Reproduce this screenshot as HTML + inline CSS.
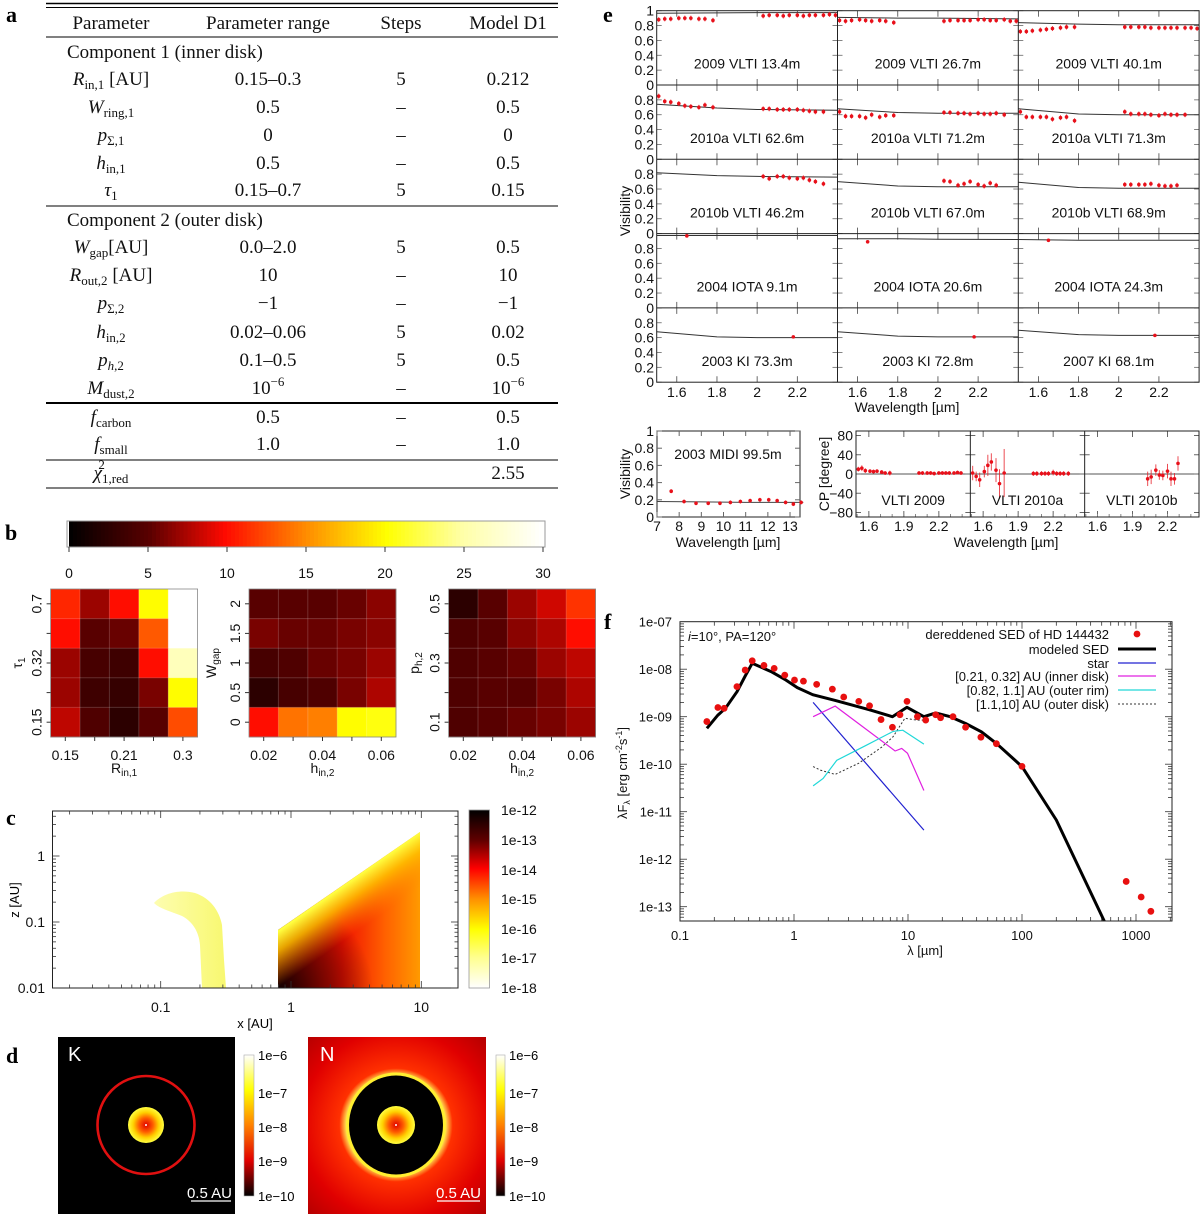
<!DOCTYPE html>
<html><head><meta charset="utf-8">
<style>
body{margin:0;background:#fff}
svg{display:block}
text{font-family:"Liberation Sans",sans-serif}
.serif text,text.serif{font-family:"Liberation Serif",serif}
</style></head>
<body>
<svg id="fig" width="1200" height="1217" xmlns="http://www.w3.org/2000/svg">
<defs>
<linearGradient id="gradC" x1="0" y1="0" x2="0" y2="1">
<stop offset="0" stop-color="#000"/><stop offset="0.17" stop-color="#600000"/><stop offset="0.33" stop-color="#ff0000"/><stop offset="0.5" stop-color="#ff9000"/><stop offset="0.67" stop-color="#ffff00"/><stop offset="0.83" stop-color="#ffff90"/><stop offset="1" stop-color="#fff"/>
</linearGradient>
<linearGradient id="gradD" x1="0" y1="0" x2="0" y2="1">
<stop offset="0" stop-color="#fff"/><stop offset="0.25" stop-color="#ffff00"/><stop offset="0.5" stop-color="#ff8000"/><stop offset="0.75" stop-color="#e00000"/><stop offset="1" stop-color="#000"/>
</linearGradient>
<linearGradient id="gradOuterBase" gradientUnits="userSpaceOnUse" x1="278" y1="0" x2="420" y2="0">
<stop offset="0" stop-color="#a00000"/><stop offset="0.45" stop-color="#f01000"/><stop offset="0.75" stop-color="#ff6000"/><stop offset="1" stop-color="#ff9a00"/>
</linearGradient>
<radialGradient id="gradOuterDark" gradientUnits="userSpaceOnUse" cx="278" cy="990" r="95">
<stop offset="0" stop-color="#000" stop-opacity="0.9"/><stop offset="0.5" stop-color="#200000" stop-opacity="0.5"/><stop offset="1" stop-color="#000" stop-opacity="0"/>
</radialGradient>
<linearGradient id="gradOuterTop" gradientUnits="userSpaceOnUse" x1="349" y1="882" x2="375" y2="919">
<stop offset="0" stop-color="#ffff40" stop-opacity="1"/><stop offset="0.35" stop-color="#ffc000" stop-opacity="0.85"/><stop offset="1" stop-color="#ff8000" stop-opacity="0"/>
</linearGradient>
<linearGradient id="gradInner" x1="0" y1="0" x2="1" y2="0">
<stop offset="0" stop-color="#fdfdb0"/><stop offset="1" stop-color="#f8f870"/>
</linearGradient>
<radialGradient id="gradCore">
<stop offset="0" stop-color="#e00000"/><stop offset="0.4" stop-color="#ff6000"/><stop offset="0.7" stop-color="#ffd000"/><stop offset="1" stop-color="#ffff40"/>
</radialGradient>
<radialGradient id="gradN" gradientUnits="userSpaceOnUse" cx="396" cy="1125" r="135">
<stop offset="0.36" stop-color="#ffff60"/><stop offset="0.42" stop-color="#ff3000"/><stop offset="0.7" stop-color="#e00000"/><stop offset="1" stop-color="#a80000"/>
</radialGradient>
</defs>
<rect width="1200" height="1217" fill="#fff"/>

<g class="serif" font-weight="bold" font-size="22">
<text x="6" y="22">a</text>
<text x="5" y="540">b</text>
<text x="6" y="825">c</text>
<text x="6" y="1063">d</text>
<text x="603" y="22">e</text>
<text x="604" y="629">f</text>
</g>

<g class="serif" font-size="19" fill="#111">
<line x1="46" y1="3.5" x2="558" y2="3.5" stroke="#000" stroke-width="1.4"/>
<line x1="46" y1="7.5" x2="558" y2="7.5" stroke="#000" stroke-width="1"/>
<line x1="46" y1="37" x2="558" y2="37" stroke="#000" stroke-width="1"/>
<line x1="46" y1="206" x2="558" y2="206" stroke="#000" stroke-width="1"/>
<line x1="46" y1="403" x2="558" y2="403" stroke="#000" stroke-width="2"/>
<line x1="46" y1="460" x2="558" y2="460" stroke="#000" stroke-width="1"/>
<line x1="46" y1="488" x2="558" y2="488" stroke="#000" stroke-width="1"/>
<g text-anchor="middle">
<text x="111" y="29">Parameter</text><text x="268" y="29">Parameter range</text><text x="401" y="29">Steps</text><text x="508" y="29">Model D1</text>
</g>
<text x="67" y="58">Component 1 (inner disk)</text>
<text x="67" y="226">Component 2 (outer disk)</text>
<g text-anchor="middle">
<text x="111" y="85"><tspan font-style="italic">R</tspan><tspan font-size="13" dy="4">in,1</tspan><tspan dy="-4"> [AU]</tspan></text>
<text x="268" y="85">0.15–0.3</text><text x="401" y="85">5</text><text x="508" y="85">0.212</text>
<text x="111" y="113"><tspan font-style="italic">W</tspan><tspan font-size="13" dy="4">ring,1</tspan></text>
<text x="268" y="113">0.5</text><text x="401" y="113">–</text><text x="508" y="113">0.5</text>
<text x="111" y="141"><tspan font-style="italic">p</tspan><tspan font-size="13" dy="4">Σ,1</tspan></text>
<text x="268" y="141">0</text><text x="401" y="141">–</text><text x="508" y="141">0</text>
<text x="111" y="169"><tspan font-style="italic">h</tspan><tspan font-size="13" dy="4">in,1</tspan></text>
<text x="268" y="169">0.5</text><text x="401" y="169">–</text><text x="508" y="169">0.5</text>
<text x="111" y="196"><tspan font-style="italic">τ</tspan><tspan font-size="13" dy="4">1</tspan></text>
<text x="268" y="196">0.15–0.7</text><text x="401" y="196">5</text><text x="508" y="196">0.15</text>
<text x="111" y="253"><tspan font-style="italic">W</tspan><tspan font-size="13" dy="4">gap</tspan><tspan dy="-4">[AU]</tspan></text>
<text x="268" y="253">0.0–2.0</text><text x="401" y="253">5</text><text x="508" y="253">0.5</text>
<text x="111" y="281"><tspan font-style="italic">R</tspan><tspan font-size="13" dy="4">out,2</tspan><tspan dy="-4"> [AU]</tspan></text>
<text x="268" y="281">10</text><text x="401" y="281">–</text><text x="508" y="281">10</text>
<text x="111" y="309"><tspan font-style="italic">p</tspan><tspan font-size="13" dy="4">Σ,2</tspan></text>
<text x="268" y="309">−1</text><text x="401" y="309">–</text><text x="508" y="309">−1</text>
<text x="111" y="338"><tspan font-style="italic">h</tspan><tspan font-size="13" dy="4">in,2</tspan></text>
<text x="268" y="338">0.02–0.06</text><text x="401" y="338">5</text><text x="508" y="338">0.02</text>
<text x="111" y="366"><tspan font-style="italic">p</tspan><tspan font-size="13" dy="4"><tspan font-style="italic">h</tspan>,2</tspan></text>
<text x="268" y="366">0.1–0.5</text><text x="401" y="366">5</text><text x="508" y="366">0.5</text>
<text x="111" y="394"><tspan font-style="italic">M</tspan><tspan font-size="13" dy="4">dust,2</tspan></text>
<text x="268" y="394">10<tspan font-size="13" dy="-8">−6</tspan></text><text x="401" y="394">–</text><text x="508" y="394">10<tspan font-size="13" dy="-8">−6</tspan></text>
<text x="111" y="423"><tspan font-style="italic">f</tspan><tspan font-size="13" dy="4">carbon</tspan></text>
<text x="268" y="423">0.5</text><text x="401" y="423">–</text><text x="508" y="423">0.5</text>
<text x="111" y="450"><tspan font-style="italic">f</tspan><tspan font-size="13" dy="4">small</tspan></text>
<text x="268" y="450">1.0</text><text x="401" y="450">–</text><text x="508" y="450">1.0</text>
<text x="111" y="479"><tspan font-style="italic">χ</tspan><tspan font-size="13" dy="4">1,red</tspan><tspan font-size="13" dx="-30" dy="-14">2</tspan></text>
<text x="508" y="479">2.55</text>
</g>
</g>

<g id="panelC">
<path d="M154,903 C163,893 180,889 195,893 C210,898 219,910 222,925 L224,960 L226,988 L202,988 L200,945 C199,932 193,922 182,916 C170,911 160,909 154,903 Z" fill="url(#gradInner)"/>
<path d="M278,988 L278,930 L420,832 L420,988 Z" fill="url(#gradOuterBase)"/>
<path d="M278,988 L278,930 L420,832 L420,988 Z" fill="url(#gradOuterDark)"/>
<path d="M278,988 L278,930 L420,832 L420,988 Z" fill="url(#gradOuterTop)"/>
<rect x="469" y="810" width="20.5" height="178" fill="url(#gradC)" stroke="#999" stroke-width="0.8"/>
<g font-size="14" fill="#111">
<text x="501" y="815">1e-12</text><text x="501" y="845">1e-13</text><text x="501" y="875">1e-14</text><text x="501" y="904">1e-15</text><text x="501" y="934">1e-16</text><text x="501" y="963">1e-17</text><text x="501" y="993">1e-18</text>
</g>
<text x="255" y="1028" text-anchor="middle" font-size="13">x [AU]</text>
<text transform="translate(19,900) rotate(-90)" text-anchor="middle" font-size="13">z [AU]</text>
</g>

<g id="panelD">
<rect x="58" y="1037" width="177" height="177" fill="#000"/>
<ellipse cx="146" cy="1125" rx="48.5" ry="49" fill="none" stroke="#e01010" stroke-width="2.6"/>
<circle cx="146" cy="1125" r="18" fill="url(#gradCore)"/>
<circle cx="146" cy="1125" r="1" fill="#fff"/>
<text x="68" y="1061" fill="#fff" font-size="20">K</text>
<text x="232" y="1198" fill="#fff" font-size="15" text-anchor="end">0.5 AU</text>
<line x1="191" y1="1201" x2="231" y2="1201" stroke="#fff" stroke-width="1.2"/>
<rect x="244" y="1055" width="10" height="141" fill="url(#gradD)" stroke="#aaa" stroke-width="0.6"/>
<g font-size="13">
<text x="258" y="1060">1e−6</text><text x="258" y="1098">1e−7</text><text x="258" y="1132">1e−8</text><text x="258" y="1166">1e−9</text><text x="258" y="1201">1e−10</text>
</g>
<rect x="308" y="1037" width="178" height="177" fill="url(#gradN)"/>
<ellipse cx="396" cy="1125" rx="48.5" ry="51" fill="none" stroke="#ffee30" stroke-width="3"/>
<ellipse cx="396" cy="1125" rx="47" ry="49.5" fill="#000"/>
<circle cx="396" cy="1125" r="19" fill="url(#gradCore)"/>
<circle cx="396" cy="1125" r="1" fill="#fff"/>
<text x="320" y="1061" fill="#fff" font-size="20">N</text>
<text x="481" y="1198" fill="#fff" font-size="15" text-anchor="end">0.5 AU</text>
<line x1="437" y1="1201" x2="480" y2="1201" stroke="#fff" stroke-width="1.2"/>
<rect x="496" y="1055" width="9" height="141" fill="url(#gradD)" stroke="#aaa" stroke-width="0.6"/>
<g font-size="13">
<text x="509" y="1060">1e−6</text><text x="509" y="1098">1e−7</text><text x="509" y="1132">1e−8</text><text x="509" y="1166">1e−9</text><text x="509" y="1201">1e−10</text>
</g>
</g>

<g id="dyn"></g>
</svg>

<script>
// ---------------- DATA ----------------
const hmScaleTicks = [0, 5, 10, 15, 20, 25, 30];
const hm1Vals = [[11,7,10,20,30],[10,5,5.5,13,30],[7,4,3.5,10,26],[7,3.5,3,6,20],[8,4.5,2.5,5,12.5]];
const hm2Vals = [[5,5,5,5.5,6.5],[6,5.5,5.5,6,6.5],[4,4.5,5.5,6,7],[2.5,4,4.5,6,7.5],[10,14,14.5,20,20.5]];
const hm3Vals = [[2.5,5,7,8.5,11.5],[4.5,5,6.5,7.5,10],[4.5,5,5.5,7,8],[4.5,5,5,6,7.5],[4.5,5,5.5,6,7]];
const hm1XLabels = ["0.15","","0.21","","0.3"];
const hm1YLabels = ["0.7","","0.32","","0.15"];
const hm2XLabels = ["0.02","","0.04","","0.06"];
const hm2YLabels = ["2","1.5","1","0.5","0"];
const hm3XLabels = ["0.02","","0.04","","0.06"];
const hm3YLabels = ["0.5","","0.3","","0.1"];

const cXTicks = [0.1, 1, 10];
const cYTicks = [0.01, 0.1, 1];

const eTitles = ["2009 VLTI 13.4m","2009 VLTI 26.7m","2009 VLTI 40.1m","2010a VLTI 62.6m","2010a VLTI 71.2m","2010a VLTI 71.3m","2010b VLTI 46.2m","2010b VLTI 67.0m","2010b VLTI 68.9m","2004 IOTA 9.1m","2004 IOTA 20.6m","2004 IOTA 24.3m","2003 KI 73.3m","2003 KI 72.8m","2007 KI 68.1m"];
const eLeftWl = [1.51,1.54,1.57,1.61,1.64,1.67,1.71,1.74,1.78];
const eRightWl = [2.03,2.06,2.10,2.13,2.16,2.20,2.23,2.26,2.29,2.33,2.36,2.39];
const eVisLeft = [
 [0.88,0.89,0.89,0.90,0.90,0.90,0.89,0.89,0.87],
 [0.87,0.86,0.87,0.88,0.87,0.86,0.87,0.86,0.84],
 [0.72,0.72,0.73,0.74,0.75,0.76,0.77,0.78,0.78],
 [0.85,0.78,0.77,0.75,0.72,0.71,0.70,0.73,0.70],
 [0.64,0.58,0.58,0.58,0.56,0.60,0.57,0.59,0.59],
 [0.64,0.57,0.57,0.57,0.57,0.54,0.56,0.57,0.52],
 [],[],[],[],[],[],[],[],[]];
const eVisRight = [
 [0.93,0.94,0.94,0.93,0.94,0.94,0.93,0.94,0.94,0.94,0.95,0.94],
 [0.86,0.87,0.87,0.87,0.87,0.88,0.88,0.87,0.87,0.88,0.86,0.86],
 [0.78,0.78,0.78,0.78,0.77,0.77,0.77,0.77,0.77,0.77,0.77,0.76],
 [0.68,0.68,0.67,0.67,0.67,0.67,0.66,0.65,0.64,0.64],
 [0.63,0.63,0.62,0.62,0.61,0.62,0.61,0.61,0.62,0.60],
 [0.64,0.61,0.61,0.61,0.60,0.59,0.61,0.60,0.60,0.60],
 [0.77,0.74,0.77,0.77,0.75,0.74,0.75,0.72,0.70,0.67],
 [0.71,0.70,0.65,0.67,0.70,0.66,0.64,0.68,0.65],
 [0.66,0.66,0.66,0.66,0.67,0.65,0.64,0.64,0.65],
 [],[],[],[],[],[]];
const eSingleWl = [null,null,null,null,null,null,null,null,null,1.65,1.65,1.65,2.18,2.18,2.18];
const eSingleVis = [null,null,null,null,null,null,null,null,null,0.97,0.89,0.91,0.61,0.61,0.63];
const eModelWl = [1.5,1.8,2.0,2.4];
const eModel = [
 [0.965,0.97,0.975,0.975],[0.91,0.90,0.90,0.89],[0.84,0.82,0.81,0.81],
 [0.74,0.69,0.67,0.66],[0.68,0.63,0.62,0.62],[0.68,0.61,0.60,0.60],
 [0.82,0.78,0.77,0.76],[0.70,0.64,0.63,0.63],[0.69,0.62,0.61,0.61],
 [0.975,0.975,0.975,0.975],[0.93,0.93,0.925,0.92],[0.92,0.91,0.91,0.91],
 [0.68,0.61,0.60,0.60],[0.68,0.62,0.61,0.61],[0.70,0.64,0.63,0.63]];
const eYTicks = [0,0.2,0.4,0.6,0.8,1];
const eXTicks = [1.6,1.8,2.0,2.2];

const midiWl = [7.64,8.22,8.76,9.31,9.84,10.31,10.76,11.2,11.64,12.04,12.42,12.8,13.15,13.5];
const midiVis = [0.30,0.18,0.16,0.16,0.16,0.17,0.18,0.19,0.20,0.20,0.19,0.17,0.15,0.17];
const midiModelWl = [7,9,11,13.6];
const midiModel = [0.18,0.175,0.17,0.17];
const midiXTicks = [7,8,9,10,11,12,13];

const cpTitles = ["VLTI 2009","VLTI 2010a","VLTI 2010b"];
const cpLeft = [[10,12,7,6,5,6,4,2,2],[2,-5,-12,5,18,25,8,-20,2],[]];
const cpLeftErr = [[5,6,5,4,4,4,4,4,5],[15,10,15,12,22,18,25,30,50]];
const cpRight = [[2,2,2,2,1,2,2,2,2,2,3,2],[1,1,1,1,1,3,1,1,1,1],[-10,-6,8,-2,-3,6,-10,-10,22]];
const cpRightErr = [[4,4,4,4,4,4,4,4,4,4,4,4],[5,5,5,5,5,6,5,5,5,5],[15,15,12,10,10,15,15,12,15]];
const cpYTicks = [-80,-40,0,40,80];
const cpXTicks = [1.6,1.9,2.2];

const sedWl = [0.172,0.215,0.244,0.316,0.373,0.43,0.545,0.67,0.83,1.01,1.21,1.58,2.17,2.73,3.7,4.6,5.8,7.3,8.5,9.8,12.1,14.3,17.5,19.3,24.8,32,43.6,59.6,100,820,1110,1350];
const sedFlux = [7.9e-10,1.56e-9,1.5e-9,4.3e-9,9.6e-9,1.5e-8,1.2e-8,1.04e-8,7.5e-9,5.9e-9,5.6e-9,4.8e-9,3.8e-9,2.6e-9,2.1e-9,1.7e-9,8.7e-10,6.0e-10,1.1e-9,2.1e-9,1.0e-9,8.5e-10,1.1e-9,9.5e-10,1.0e-9,6.0e-10,3.7e-10,2.7e-10,9.0e-11,3.4e-13,1.6e-13,8.0e-14];
const modWl = [0.172,0.215,0.25,0.316,0.373,0.43,0.63,0.85,1.07,1.46,2.3,4.6,7.3,9.8,13.8,17.5,23.5,32,44,60,100,200,530];
const modFlux = [5.7e-10,1.08e-9,1.5e-9,3.36e-9,7.2e-9,1.33e-8,8.9e-9,5.9e-9,4.1e-9,2.9e-9,2.2e-9,1.4e-9,1.0e-9,1.58e-9,1.0e-9,1.2e-9,1.0e-9,7.2e-10,4.8e-10,2.7e-10,8.9e-11,6.7e-12,4.8e-14];
const starWl = [1.47,13.8];
const starFlux = [2.0e-9,4.1e-12];
const innerWl = [1.47,2.3,7.7,8.8,9.9,13.8];
const innerFlux = [1.0e-9,1.67e-9,1.9e-10,2.15e-10,1.7e-10,2.8e-11];
const rimWl = [1.47,1.8,2.37,4.3,7.4,9.0,13.8];
const rimFlux = [3.5e-11,5.0e-11,1.2e-10,2.5e-10,4.9e-10,5.2e-10,2.65e-10];
const outerWl = [1.47,1.7,2.3,3.7,5.9,7.4,9.4,11.8,13.8];
const outerFlux = [8.9e-11,7.5e-11,6.1e-11,1.05e-10,2.3e-10,3.8e-10,9.3e-10,8.5e-10,8.5e-10];
const fXTicks = [0.1,1,10,100,1000];
const fXTickLabels = ["0.1","1","10","100","1000"];
const fYTicks = [1e-7,1e-8,1e-9,1e-10,1e-11,1e-12,1e-13];
const fYTickLabels = ["1e-07","1e-08","1e-09","1e-10","1e-11","1e-12","1e-13"];

// ---------------- HELPERS ----------------
const NS = 'http://www.w3.org/2000/svg';
const root = document.getElementById('dyn');
function mk(parent, tag, attrs) {
  const e = document.createElementNS(NS, tag);
  for (const k in attrs) e.setAttribute(k, attrs[k]);
  parent.appendChild(e);
  return e;
}
function tx(parent, x, y, s, size, anchor) {
  const e = mk(parent, 'text', {x: x, y: y, 'font-size': size, 'text-anchor': anchor || 'start', fill: '#111'});
  e.textContent = s;
  return e;
}
function pathFrom(xs, ys, fx, fy) {
  let d = '';
  for (let i = 0; i < xs.length; i++) d += (i ? 'L' : 'M') + fx(xs[i]).toFixed(1) + ',' + fy(ys[i]).toFixed(1);
  return d;
}
const hotStops = [[0,[0,0,0]],[0.17,[90,0,0]],[0.33,[255,10,0]],[0.5,[255,140,0]],[0.67,[255,255,0]],[0.83,[255,255,168]],[1,[255,255,255]]];
function hot(t) {
  t = Math.max(0, Math.min(1, t));
  for (let i = 1; i < hotStops.length; i++) {
    if (t <= hotStops[i][0]) {
      const a = hotStops[i-1], b = hotStops[i], f = (t - a[0]) / (b[0] - a[0]);
      const c = a[1].map((v, j) => Math.round(v + (b[1][j] - v) * f));
      return 'rgb(' + c.join(',') + ')';
    }
  }
  return '#fff';
}

// ---------------- PANEL B ----------------
const gb = mk(root, 'g', {});


const cbX0 = 67, cbX1 = 545, cbY0 = 521, cbY1 = 547;
const cbScale = v => cbX0 + 2 + (v / 30) * (cbX1 - cbX0 - 4);
const cbar = mk(gb, 'g', {});


for (let i = 0; i < 120; i++) {
  const v0 = i * 30 / 120;
  mk(cbar, 'rect', {x: cbScale(v0), y: cbY0, width: (cbX1 - cbX0) / 120 + 0.6, height: cbY1 - cbY0, fill: hot((v0 + 0.125) / 30)});
}
mk(cbar, 'rect', {x: cbX0, y: cbY0, width: cbX1 - cbX0, height: cbY1 - cbY0, fill: 'none', stroke: '#999', 'stroke-width': 1});
hmScaleTicks.forEach(v => {
  mk(cbar, 'line', {x1: cbScale(v), y1: cbY1, x2: cbScale(v), y2: cbY1 + 5, stroke: '#333', 'stroke-width': 1});
  const t = tx(cbar, cbScale(v), 578, String(v), 14, 'middle');
  
  
});
function heatmap(vals, x0, xLabels, yLabels, xTitle, yTitle, yTitleX, name) {
  const g = mk(gb, 'g', {});
  
  
  const y0 = 589, w = 147, h = 148, cw = w / 5, ch = h / 5;
  vals.forEach((row, r) => row.forEach((v, c) => {
    const cell = mk(g, 'rect', {x: x0 + c * cw, y: y0 + r * ch, width: cw + 0.3, height: ch + 0.3, fill: hot(v / 30)});
    
    
  }));
  for (let i = 1; i < 5; i++) {
    mk(g, 'line', {x1: x0 + i * cw, y1: y0, x2: x0 + i * cw, y2: y0 + h, stroke: 'rgba(255,255,255,0.18)', 'stroke-width': 1});
    mk(g, 'line', {x1: x0, y1: y0 + i * ch, x2: x0 + w, y2: y0 + i * ch, stroke: 'rgba(255,255,255,0.18)', 'stroke-width': 1});
  }
  mk(g, 'rect', {x: x0, y: y0, width: w, height: h, fill: 'none', stroke: '#888', 'stroke-width': 0.8});
  for (let i = 0; i < 5; i++) {
    const cx = x0 + (i + 0.5) * cw, cy = y0 + (i + 0.5) * ch;
    mk(g, 'line', {x1: cx, y1: y0 + h, x2: cx, y2: y0 + h + 4, stroke: '#333'});
    mk(g, 'line', {x1: x0 - 4, y1: cy, x2: x0, y2: cy, stroke: '#333'});
    if (xLabels[i]) tx(g, cx, 760, xLabels[i], 14, 'middle');
    if (yLabels[i]) {
      const t = tx(g, 0, 0, yLabels[i], 14, 'middle');
      t.setAttribute('transform', 'translate(' + (x0 - 9) + ',' + cy + ') rotate(-90)');
    }
  }
  const xt = mk(g, 'text', {x: x0 + w / 2, y: 773, 'font-size': 14, 'text-anchor': 'middle', fill: '#111'});
  
  
  xt.innerHTML = xTitle;
  const yt = mk(g, 'text', {transform: 'translate(' + yTitleX + ',663) rotate(-90)', 'font-size': 14, 'text-anchor': 'middle', fill: '#111'});
  
  
  yt.innerHTML = yTitle;
}
heatmap(hm1Vals, 50.6, hm1XLabels, hm1YLabels, 'R<tspan font-size="10" dy="3">in,1</tspan>', 'τ<tspan font-size="10" dy="3">1</tspan>', 22, 'heatmap-tau-rin');
heatmap(hm2Vals, 249, hm2XLabels, hm2YLabels, 'h<tspan font-size="10" dy="3">in,2</tspan>', 'W<tspan font-size="10" dy="3">gap</tspan>', 216, 'heatmap-wgap-hin');
heatmap(hm3Vals, 448.6, hm3XLabels, hm3YLabels, 'h<tspan font-size="10" dy="3">in,2</tspan>', 'p<tspan font-size="10" dy="3">h,2</tspan>', 419, 'heatmap-ph-hin');

// ---------------- PANEL C axes ----------------
const gc = mk(root, 'g', {});


const cX = x => 160.7 + (Math.log10(x) + 1) * 130.3;
const cY = z => 856 - Math.log10(z) * 66;
mk(gc, 'rect', {x: 52.5, y: 811, width: 405.5, height: 177, fill: 'none', stroke: '#222', 'stroke-width': 1});
for (let d = -2; d <= 1; d++) for (let m = 1; m <= 9; m++) {
  const v = m * Math.pow(10, d), px = cX(v);
  if (px < 53 || px > 457) continue;
  const L = m === 1 ? 7 : 3.5;
  mk(gc, 'line', {x1: px, y1: 988, x2: px, y2: 988 - L, stroke: '#333', 'stroke-width': 0.8});
  mk(gc, 'line', {x1: px, y1: 811, x2: px, y2: 811 + L, stroke: '#333', 'stroke-width': 0.8});
}
for (let d = -2; d <= 0; d++) for (let m = 1; m <= 9; m++) {
  const v = m * Math.pow(10, d), py = cY(v);
  if (py < 811 || py > 988) continue;
  const L = m === 1 ? 7 : 3.5;
  mk(gc, 'line', {x1: 52.5, y1: py, x2: 52.5 + L, y2: py, stroke: '#333', 'stroke-width': 0.8});
  mk(gc, 'line', {x1: 458, y1: py, x2: 458 - L, y2: py, stroke: '#333', 'stroke-width': 0.8});
}
cXTicks.forEach(v => { tx(gc, cX(v), 1012, String(v), 14, 'middle'); });
cYTicks.forEach(v => { tx(gc, 45, cY(v) + 5, String(v), 14, 'end'); });

// ---------------- PANEL E ----------------
const ge = mk(root, 'g', {});


const ex0 = 656.7, ecw = 180.8, ey0 = 10.7, erh = 74.3;
function eXf(col) { return wl => ex0 + col * ecw + (wl - 1.5) / 0.9 * ecw; }
function eYf(row) { return v => ey0 + row * erh + (1 - v) * erh; }
function drawPoint(g, x, y, err) {
  const p = mk(g, 'g', {});
  
  
  mk(p, 'line', {x1: x, y1: y - err, x2: x, y2: y + err, stroke: '#e8202a', 'stroke-width': 1, opacity: 0.8});
  mk(p, 'circle', {cx: x, cy: y, r: 1.8, fill: '#e8101a'});
}
for (let k = 0; k < 15; k++) {
  const row = Math.floor(k / 3), col = k % 3;
  const fx = eXf(col), fy = eYf(row);
  const g = mk(ge, 'g', {});
  
  
  const top = ey0 + row * erh, left = ex0 + col * ecw;
  eXTicks.forEach(t => {
    mk(g, 'line', {x1: fx(t), y1: top, x2: fx(t), y2: top + 6, stroke: '#444', 'stroke-width': 0.8});
    mk(g, 'line', {x1: fx(t), y1: top + erh, x2: fx(t), y2: top + erh - 6, stroke: '#444', 'stroke-width': 0.8});
  });
  eYTicks.forEach(t => {
    mk(g, 'line', {x1: left, y1: fy(t), x2: left + 5, y2: fy(t), stroke: '#666', 'stroke-width': 0.8});
    mk(g, 'line', {x1: left + ecw, y1: fy(t), x2: left + ecw - 5, y2: fy(t), stroke: '#666', 'stroke-width': 0.8});
  });
  const ml = mk(g, 'path', {d: pathFrom(eModelWl, eModel[k], fx, fy), fill: 'none', stroke: '#333', 'stroke-width': 1});
  
  
  eVisLeft[k].forEach((v, i) => drawPoint(g, fx(eLeftWl[i]), fy(v), 2.5));
  eVisRight[k].forEach((v, i) => drawPoint(g, fx(eRightWl[i]), fy(v), 2.5));
  if (eSingleWl[k] !== null) drawPoint(g, fx(eSingleWl[k]), fy(eSingleVis[k]), 1.5);
  const t = tx(g, left + ecw / 2, top + 58, eTitles[k], 14, 'middle');
  
  
  if (col === 0) {
    const labs = row === 0 ? eYTicks : eYTicks.slice(0, 5);
    labs.forEach(v => { tx(g, 654, fy(v) + 5, String(v), 14, 'end'); });
  }
  if (row === 4) eXTicks.forEach(v => { tx(g, fx(v), 397, String(v === 2 ? 2 : v), 14, 'middle'); });
}
mk(ge, 'rect', {x: ex0, y: ey0, width: ecw * 3, height: erh * 5, fill: 'none', stroke: '#222', 'stroke-width': 1});
for (let c = 1; c < 3; c++) mk(ge, 'line', {x1: ex0 + c * ecw, y1: ey0, x2: ex0 + c * ecw, y2: ey0 + 5 * erh, stroke: '#222', 'stroke-width': 1});
for (let r = 1; r < 5; r++) mk(ge, 'line', {x1: ex0, y1: ey0 + r * erh, x2: ex0 + 3 * ecw, y2: ey0 + r * erh, stroke: '#222', 'stroke-width': 1});
const ewt = tx(ge, 907, 412, 'Wavelength [µm]', 14, 'middle');


const evt = tx(ge, 0, 0, 'Visibility', 14, 'middle');
evt.setAttribute('transform', 'translate(630,211) rotate(-90)');



// MIDI
const gm = mk(root, 'g', {});


const mX = wl => 657 + (wl - 7) / 6.45 * 143;
const mY = v => 517 - v * 86;
mk(gm, 'rect', {x: 657, y: 431, width: 143, height: 86, fill: 'none', stroke: '#222'});
eYTicks.forEach(v => {
  mk(gm, 'line', {x1: 657, y1: mY(v), x2: 662, y2: mY(v), stroke: '#666'});
  mk(gm, 'line', {x1: 800, y1: mY(v), x2: 795, y2: mY(v), stroke: '#666'});
  tx(gm, 654, mY(v) + 5, String(v), 14, 'end');
});
midiXTicks.forEach(v => {
  mk(gm, 'line', {x1: mX(v), y1: 431, x2: mX(v), y2: 436, stroke: '#666'});
  mk(gm, 'line', {x1: mX(v), y1: 517, x2: mX(v), y2: 512, stroke: '#666'});
  tx(gm, mX(v), 531, String(v), 14, 'middle');
});
const mml = mk(gm, 'path', {d: pathFrom(midiModelWl, midiModel, mX, mY), fill: 'none', stroke: '#444', 'stroke-width': 1});


midiVis.forEach((v, i) => drawPoint(gm, mX(midiWl[i]), mY(v), 2));
tx(gm, 728, 459, '2003 MIDI 99.5m', 14, 'middle');
const mvt = tx(gm, 0, 0, 'Visibility', 14, 'middle');
mvt.setAttribute('transform', 'translate(630,474) rotate(-90)');


tx(gm, 728, 547, 'Wavelength [µm]', 14, 'middle');

// CP
const gp = mk(root, 'g', {});


const pw = (1199 - 856) / 3;
const pY = v => 474 - v * (77 / 160);
for (let c = 0; c < 3; c++) {
  const left = 856 + c * pw;
  const fx = wl => left + (wl - 1.49) / 0.98 * pw;
  const g = mk(gp, 'g', {});
  
  
  mk(g, 'line', {x1: left, y1: pY(0), x2: left + pw, y2: pY(0), stroke: '#555', 'stroke-width': 1});
  cpYTicks.forEach(v => {
    mk(g, 'line', {x1: left, y1: pY(v), x2: left + 5, y2: pY(v), stroke: '#666'});
    mk(g, 'line', {x1: left + pw, y1: pY(v), x2: left + pw - 5, y2: pY(v), stroke: '#666'});
  });
  cpXTicks.forEach(v => {
    mk(g, 'line', {x1: fx(v), y1: 431, x2: fx(v), y2: 437, stroke: '#666'});
    mk(g, 'line', {x1: fx(v), y1: 517, x2: fx(v), y2: 511, stroke: '#666'});
    tx(g, fx(v), 531, String(v), 14, 'middle');
  });
  for (let m = 1.5; m < 2.45; m += 0.1) {
    mk(g, 'line', {x1: fx(m), y1: 517, x2: fx(m), y2: 514, stroke: '#888'});
  }
  cpLeft[c].forEach((v, i) => drawPoint(g, fx(eLeftWl[i]), pY(v), cpLeftErr[c][i] * 77 / 160));
  cpRight[c].forEach((v, i) => drawPoint(g, fx(eRightWl[i]), pY(v), cpRightErr[c][i] * 77 / 160));
  tx(g, left + pw / 2, 505, cpTitles[c], 14, 'middle');
}
mk(gp, 'rect', {x: 856, y: 431, width: 343, height: 86, fill: 'none', stroke: '#222'});
mk(gp, 'line', {x1: 856 + pw, y1: 431, x2: 856 + pw, y2: 517, stroke: '#222'});
mk(gp, 'line', {x1: 856 + 2 * pw, y1: 431, x2: 856 + 2 * pw, y2: 517, stroke: '#222'});
cpYTicks.forEach(v => { tx(gp, 853, pY(v) + 5, String(v).replace('-', '−'), 14, 'end'); });
const cpt = tx(gp, 0, 0, 'CP [degree]', 14, 'middle');
cpt.setAttribute('transform', 'translate(829,474) rotate(-90)');


tx(gp, 1006, 547, 'Wavelength [µm]', 14, 'middle');

// ---------------- PANEL F ----------------
const gf = mk(root, 'g', {});


const fX = l => 680 + (Math.log10(l) + 1) * 114;
const fY = v => 621.7 + (-7 - Math.log10(v)) * 47.5;
const fx0 = 680, fx1 = 1172, fy0 = 621.7, fy1 = 921;
for (let d = -1; d <= 3; d++) for (let m = 1; m <= 9; m++) {
  const px = fX(m * Math.pow(10, d));
  if (px > fx1) continue;
  const L = m === 1 ? 7 : 4;
  mk(gf, 'line', {x1: px, y1: fy1, x2: px, y2: fy1 - L, stroke: '#333', 'stroke-width': 0.8});
  mk(gf, 'line', {x1: px, y1: fy0, x2: px, y2: fy0 + L, stroke: '#333', 'stroke-width': 0.8});
}
for (let d = -14; d <= -8; d++) for (let m = 1; m <= 9; m++) {
  const py = fY(m * Math.pow(10, d));
  if (py > fy1 || py < fy0) continue;
  const L = m === 1 ? 7 : 4;
  mk(gf, 'line', {x1: fx0, y1: py, x2: fx0 + L, y2: py, stroke: '#333', 'stroke-width': 0.8});
  mk(gf, 'line', {x1: fx1, y1: py, x2: fx1 - L, y2: py, stroke: '#333', 'stroke-width': 0.8});
}
fXTicks.forEach((v, i) => { tx(gf, fX(v), 940, fXTickLabels[i], 13, 'middle'); });
fYTicks.forEach((v, i) => { tx(gf, 672, fY(v) + 5, fYTickLabels[i], 13, 'end'); });
const clipF = mk(gf, 'clipPath', {id: 'clipF'});
mk(clipF, 'rect', {x: fx0, y: fy0, width: fx1 - fx0, height: fy1 - fy0});
const series = mk(gf, 'g', {'clip-path': 'url(#clipF)'});
const sOuter = mk(series, 'path', {d: pathFrom(outerWl, outerFlux, fX, fY), fill: 'none', stroke: '#333', 'stroke-width': 1, 'stroke-dasharray': '2,2'});


const sStar = mk(series, 'path', {d: pathFrom(starWl, starFlux, fX, fY), fill: 'none', stroke: '#2020d0', 'stroke-width': 1.2});


const sInner = mk(series, 'path', {d: pathFrom(innerWl, innerFlux, fX, fY), fill: 'none', stroke: '#e020e0', 'stroke-width': 1.2});


const sRim = mk(series, 'path', {d: pathFrom(rimWl, rimFlux, fX, fY), fill: 'none', stroke: '#20d8d8', 'stroke-width': 1.2});


const sMod = mk(series, 'path', {d: pathFrom(modWl, modFlux, fX, fY), fill: 'none', stroke: '#000', 'stroke-width': 3, 'stroke-linejoin': 'round'});


sedWl.forEach((l, i) => {
  const c = mk(series, 'circle', {cx: fX(l), cy: fY(sedFlux[i]), r: 3.4, fill: '#e81010'});
  
  
});
mk(gf, 'rect', {x: fx0, y: fy0, width: fx1 - fx0, height: fy1 - fy0, fill: 'none', stroke: '#222', 'stroke-width': 1});
const lg = mk(gf, 'g', {});


const lgLabels = ['dereddened SED of HD 144432','modeled SED','star','[0.21, 0.32] AU (inner disk)','[0.82, 1.1] AU (outer rim)','[1.1,10] AU (outer disk)'];
const lgY = [634, 649, 663, 676, 690, 704];
lgLabels.forEach((s, i) => {
  const t = tx(lg, 1109, lgY[i] + 5, s, 13, 'end');
  
  
});
mk(lg, 'circle', {cx: 1137, cy: 634, r: 3.4, fill: '#e81010'});
mk(lg, 'line', {x1: 1118, y1: 649, x2: 1156, y2: 649, stroke: '#000', 'stroke-width': 3});
mk(lg, 'line', {x1: 1118, y1: 663, x2: 1156, y2: 663, stroke: '#2020d0', 'stroke-width': 1.2});
mk(lg, 'line', {x1: 1118, y1: 676, x2: 1156, y2: 676, stroke: '#e020e0', 'stroke-width': 1.2});
mk(lg, 'line', {x1: 1118, y1: 690, x2: 1156, y2: 690, stroke: '#20d8d8', 'stroke-width': 1.2});
mk(lg, 'line', {x1: 1118, y1: 704, x2: 1156, y2: 704, stroke: '#333', 'stroke-width': 1, 'stroke-dasharray': '2,2'});
const inc = mk(gf, 'text', {x: 688, y: 641, 'font-size': 13, fill: '#111'});


inc.innerHTML = '<tspan font-style="italic">i</tspan>=10°, PA=120°';
const fxt = tx(gf, 925, 955, 'λ [µm]', 13, 'middle');


const fyt = mk(gf, 'text', {transform: 'translate(627,773) rotate(-90)', 'font-size': 13, 'text-anchor': 'middle', fill: '#111'});


fyt.innerHTML = 'λF<tspan font-size="9" dy="3">λ</tspan><tspan dy="-3"> [erg cm</tspan><tspan font-size="9" dy="-5">-2</tspan><tspan dy="5">s</tspan><tspan font-size="9" dy="-5">-1</tspan><tspan dy="5">]</tspan>';
</script>
</body></html>
